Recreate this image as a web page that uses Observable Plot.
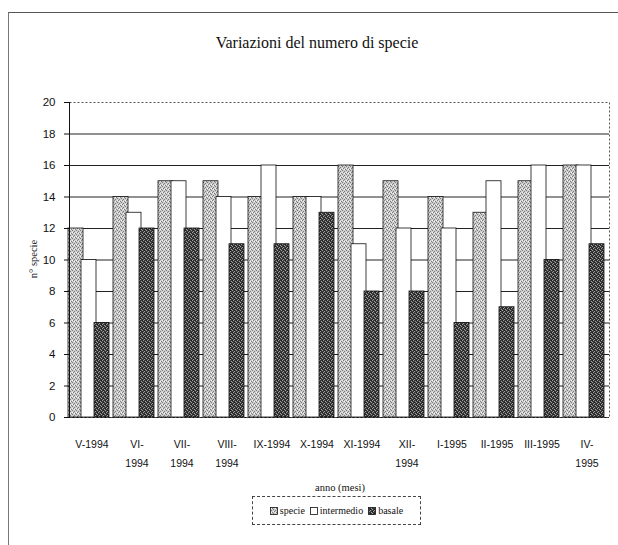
<!DOCTYPE html>
<html><head><meta charset="utf-8">
<script src="https://cdn.jsdelivr.net/npm/d3@7"></script>
<script src="https://cdn.jsdelivr.net/npm/@observablehq/plot@0.6"></script>
<style>
html,body{margin:0;padding:0;background:#fff;}
#wrap{position:relative;width:618px;height:545px;overflow:hidden;background:#fff;}
#outer{position:absolute;left:8px;top:12px;width:640px;height:560px;border-top:1px solid #555;border-left:1px solid #777;}
#title{position:absolute;left:0;top:34px;width:634px;text-align:center;font:16px "Liberation Serif",serif;color:#111;}
#chart{position:absolute;left:0;top:80px;}
#ylabel{position:absolute;left:33px;top:259px;transform:translate(-50%,-50%) rotate(-90deg);font:10.5px "Liberation Serif",serif;white-space:nowrap;color:#111;}
#xlabel{position:absolute;left:240px;top:482px;width:200px;text-align:center;font:10.5px "Liberation Serif",serif;color:#111;}
#legend{position:absolute;left:252px;top:496px;width:167px;height:27px;border:1px dashed #444;display:flex;align-items:center;justify-content:center;gap:5px;font:10px "Liberation Serif",serif;color:#111;}
.item{display:flex;align-items:center;gap:2px;}
</style></head>
<body>
<div id="wrap">
  <div id="outer"></div>
  <div id="title"></div>
  <div id="chart"></div>
  <div id="ylabel"></div>
  <div id="xlabel"></div>
  <div id="legend"></div>
</div>
<script>
const titleText = "Variazioni del numero di specie";
const yLabel = "n° specie";
const xLabel = "anno (mesi)";
const months = ["V-1994","VI-1994","VII-1994","VIII-1994","IX-1994","X-1994","XI-1994","XII-1994","I-1995","II-1995","III-1995","IV-1995"];
const tickLabels = ["V-1994","VI-\n1994","VII-\n1994","VIII-\n1994","IX-1994","X-1994","XI-1994","XII-\n1994","I-1995","II-1995","III-1995","IV-\n1995"];
const series = ["specie","intermedio","basale"];
const specie = [12,14,15,15,14,14,16,15,14,13,15,16];
const intermedio = [10,13,15,14,16,14,11,12,12,15,16,16];
const basale = [6,12,12,11,11,13,8,8,6,7,10,11];
const yTicks = [0,2,4,6,8,10,12,14,16,18,20];

const valuesBySeries = {specie, intermedio, basale};
const data = months.flatMap((m, i) => series.map(s => ({month: m, serie: s, value: valuesBySeries[s][i]})));
const fills = ["url(#pat-specie)", "#ffffff", "url(#pat-basale)"];

document.getElementById("title").textContent = titleText;
document.getElementById("ylabel").textContent = yLabel;
document.getElementById("xlabel").textContent = xLabel;

const chart = Plot.plot({
  width: 618, height: 390,
  marginTop: 22, marginBottom: 53, marginLeft: 68, marginRight: 9,
  style: {fontFamily: '"Liberation Sans", Arial, sans-serif', fontSize: "10.5px", color: "#111", background: "transparent"},
  fx: {domain: months, paddingInner: 0, paddingOuter: 0, label: null, axis: null},
  x: {domain: series, paddingInner: 0, paddingOuter: 0.2, align: 0, axis: null},
  y: {domain: [0, 20], axis: null},
  color: {domain: series, range: fills},
  marks: [
    Plot.ruleY(yTicks.filter(v => v > 0 && v < 20), {stroke: "#222", strokeWidth: 1}),
    Plot.barY(data, {fx: "month", x: "serie", y: "value", fill: "serie", stroke: "#111", strokeWidth: 0.8, insetLeft: -1, insetRight: -1}),
    Plot.ruleY([0], {stroke: "#111"}),
    Plot.frame({facet: "super", stroke: "#555", strokeDasharray: "2,2"}),
    Plot.frame({facet: "super", anchor: "left", stroke: "#111"}),
    Plot.axisY({ticks: yTicks, tickSize: 5, tickPadding: 9, label: null, fontSize: 11.5}),
    Plot.axisFx({anchor: "bottom", tickFormat: m => tickLabels[months.indexOf(m)], tickSize: 0, tickPadding: 17, lineHeight: 1.8, label: null})
  ]
});

// hatched fills like the original
const defs = d3.select(chart).insert("defs", ":first-child");
function pattern(id, bg, fg, pts, hi, hiPts) {
  const p = defs.append("pattern").attr("id", id).attr("patternUnits", "userSpaceOnUse")
    .attr("width", 4).attr("height", 4).attr("shape-rendering", "crispEdges");
  p.append("rect").attr("width", 4).attr("height", 4).attr("fill", bg);
  pts.forEach(([x, y]) => p.append("rect").attr("x", x).attr("y", y).attr("width", 1).attr("height", 1).attr("fill", fg));
  hiPts.forEach(([x, y]) => p.append("rect").attr("x", x).attr("y", y).attr("width", 1).attr("height", 1).attr("fill", hi));
}
pattern("pat-specie", "#cdcdcd", "#7c7c7c", [[0,0],[2,1],[1,3],[3,2]], "#f4f4f4", [[1,1],[3,0]]);
pattern("pat-basale", "#383838", "#a0a0a0", [[1,0],[3,1],[0,2],[2,3]], "#1a1a1a", [[0,0],[2,2]]);

document.getElementById("chart").appendChild(chart);

const legend = d3.select("#legend");
series.forEach((s, i) => {
  const it = legend.append("div").attr("class", "item");
  const sv = it.append("svg").attr("width", 8).attr("height", 8);
  sv.append("rect").attr("x", 0.5).attr("y", 0.5).attr("width", 7).attr("height", 7)
    .attr("fill", fills[i]).attr("stroke", "#111").attr("stroke-width", 0.8);
  it.append("span").text(s);
});
</script>
</body></html>
